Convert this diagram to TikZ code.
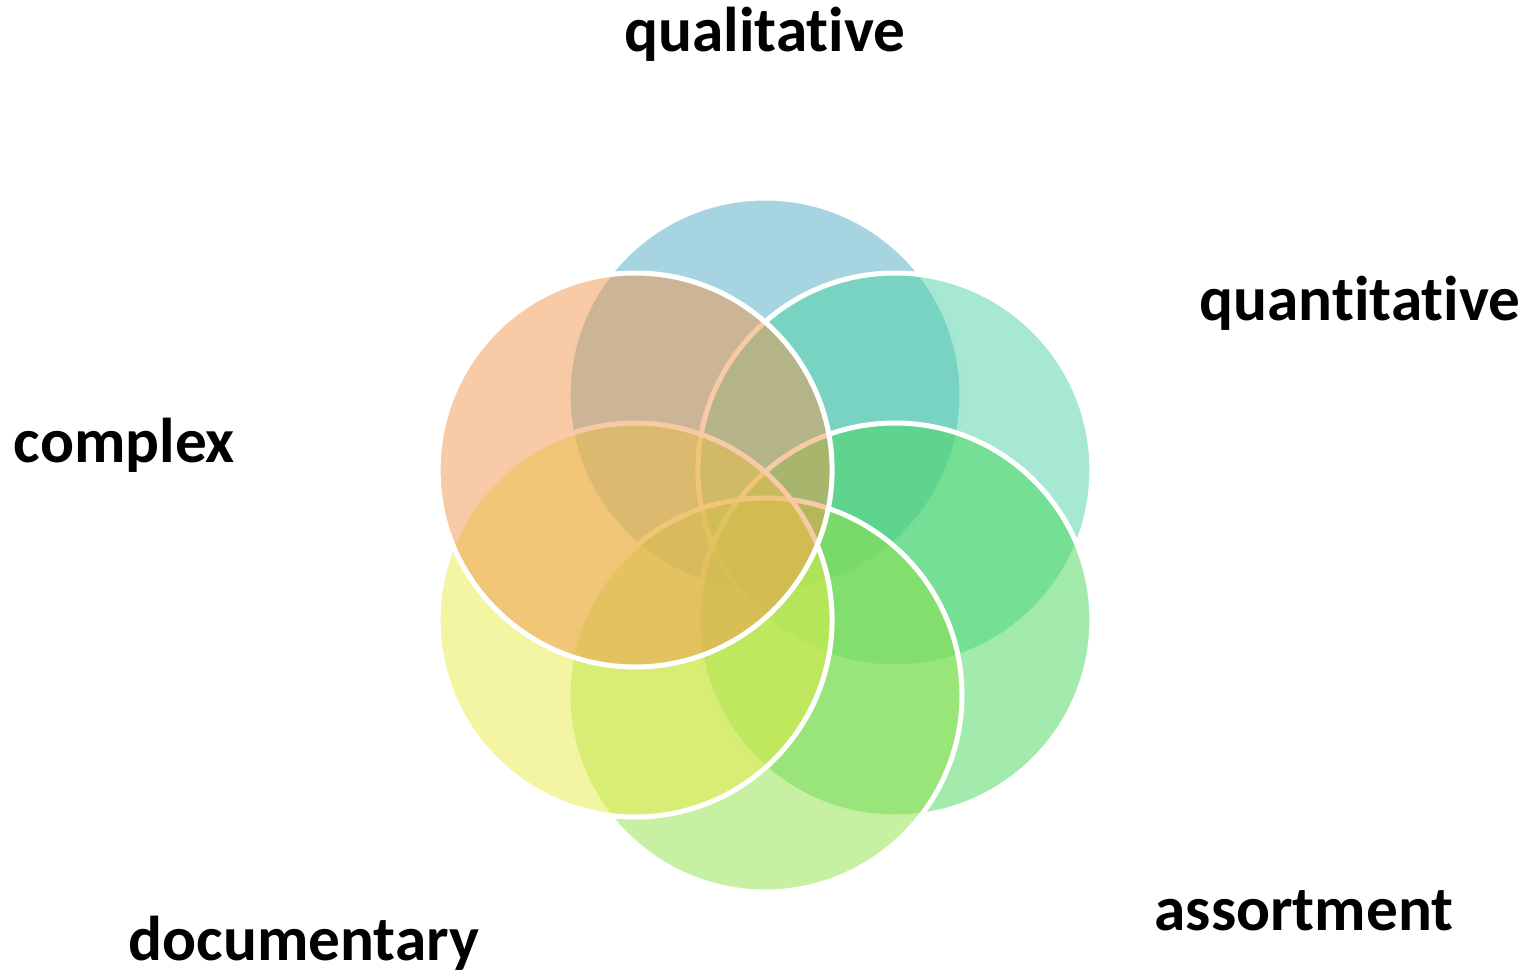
\documentclass[tikz,border=0pt]{standalone}
\usepackage{fontspec}
\setmainfont{Carlito}[RawFeature={-liga;-clig;-calt;-dlig}]
\usepackage{tikz}
\usetikzlibrary{calc}

\definecolor{petalblue}{RGB}{77,171,195}
\definecolor{petalteal}{RGB}{77,209,165}
\definecolor{petalgreen}{RGB}{71,215,91}
\definecolor{petallime}{RGB}{145,225,71}
\definecolor{petalyellow}{RGB}{231,235,71}
\definecolor{petalorange}{RGB}{241,151,77}

\begin{document}
\begin{tikzpicture}[
    petal/.style={circle, draw=white, line width=0.05cm, fill opacity=0.5, minimum size=3.94cm, inner sep=0pt},
    tag/.style={anchor=base, inner sep=0pt, font=\fontsize{18}{22}\selectfont\bfseries}
  ]
  \useasboundingbox (0,0) rectangle (15.33,9.72);
  \coordinate (mid) at (7.65,4.27);

  % six petals, drawn clockwise from the top
  \node[petal, fill=petalblue]   (pblue)   at ($(mid)+(90:1.5)$)   {};
  \node[petal, fill=petalteal]   (pteal)   at ($(mid)+(30:1.5)$)   {};
  \node[petal, fill=petalgreen]  (pgreen)  at ($(mid)+(-30:1.5)$)  {};
  \node[petal, fill=petallime]   (plime)   at ($(mid)+(-90:1.5)$)  {};
  \node[petal, fill=petalyellow] (pyellow) at ($(mid)+(-150:1.5)$) {};
  \node[petal, fill=petalorange] (porange) at ($(mid)+(150:1.5)$)  {};

  % labels
  \node[tag] (qual)  at (7.65,9.20)  {qualitative};
  \node[tag] (quant) at (13.60,6.52) {quantitative};
  \node[tag] (cplx)  at (1.245,5.10) {complex};
  \node[tag] (docu)  at (3.04,0.12)  {documentary};
  \node[tag] (asst)  at (13.04,0.42) {assortment};

\end{tikzpicture}
\end{document}
